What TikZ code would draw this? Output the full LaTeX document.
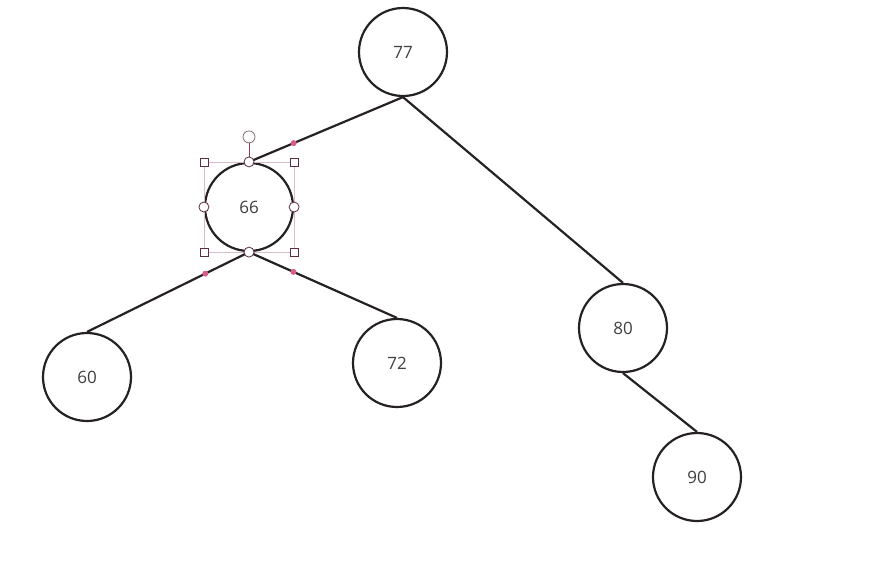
\documentclass[tikz,border=0pt]{standalone}
\usepackage{fontspec}
\setmainfont{Open Sans}
\usepackage{tikz}
\usetikzlibrary{positioning}
\usepackage{xcolor}
\definecolor{nodeline}{RGB}{38, 34, 36}
\definecolor{labelgrey}{RGB}{64, 64, 64}
\definecolor{framepink}{RGB}{216, 190, 204}
\definecolor{handlepurple}{RGB}{92, 44, 68}
\definecolor{dotpink}{RGB}{214, 92, 140}
\definecolor{rotred}{RGB}{150, 60, 84}
\definecolor{rotgrey}{RGB}{130, 110, 120}

\begin{document}
\begin{tikzpicture}[x=1pt, y=-1pt,
    treenode/.style={circle, draw=nodeline, line width=2.2pt, fill=white, minimum size=88pt, inner sep=0pt, text=labelgrey, font=\fontsize{17}{19}\selectfont},
    branch/.style={draw=nodeline, line width=2.2pt},
    sqhandle/.style={draw=handlepurple, fill=white, line width=0.8pt, minimum size=8pt, inner sep=0pt},
    rdhandle/.style={circle, draw=handlepurple, fill=white, line width=0.8pt, minimum size=10pt, inner sep=0pt},
    glue/.style={circle, fill=dotpink, minimum size=6pt, inner sep=0pt}]
    \useasboundingbox (0,0) rectangle (892,566);

    % Tree nodes
    \node[treenode] (n77) at (403,52) {77};
    \node[treenode] (n66) at (249,207) {66};
    \node[treenode] (n60) at (87,377) {60};
    \node[treenode] (n72) at (397,363) {72};
    \node[treenode] (n80) at (623,328) {80};
    \node[treenode] (n90) at (697,477) {90};

    % Branches
    \draw[branch] (n77.south) -- node[pos=0.71, glue] {} (n66.north);
    \draw[branch] (n77.south) -- (n80.north);
    \draw[branch] (n66.south) -- node[pos=0.27, glue] {} (n60.north);
    \draw[branch] (n66.south) -- node[pos=0.30, glue] {} (n72.north);
    \draw[branch] (n80.south) -- (n90.north);

    % Selection on 66
    \coordinate (selnw) at (n66.west |- n66.north);
    \coordinate (selne) at (n66.east |- n66.north);
    \coordinate (selsw) at (n66.west |- n66.south);
    \coordinate (selse) at (n66.east |- n66.south);
    \draw[framepink, line width=0.8pt] (selnw) rectangle (selse);
    \node[rdhandle, draw=rotgrey, minimum size=12pt] (rot) at ([yshift=25pt]n66.north) {};
    \draw[rotred, line width=0.8pt] (rot) -- (n66.north);
    \foreach \c in {selnw, selne, selsw, selse}
        \node[sqhandle] at (\c) {};
    \foreach \a in {north, south, east, west}
        \node[rdhandle] at (n66.\a) {};
\end{tikzpicture}
\end{document}
